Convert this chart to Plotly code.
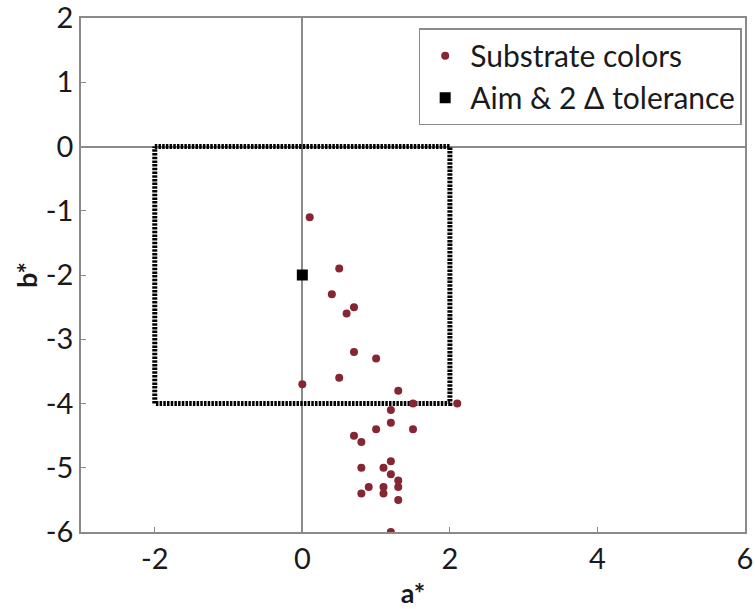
import plotly.graph_objects as go

# Substrate color measurements (a*, b*)
substrate_a = [0.1, 0.5, 0.4, 0.7, 0.6, 0.7, 1.0, 0.5, 0.0, 1.3, 2.1, 1.5, 1.2, 1.2,
               1.0, 1.5, 0.7, 0.8, 1.2, 1.1, 0.8, 1.2, 1.3, 1.3, 0.9, 1.1, 1.1, 0.8,
               1.3, 1.2]
substrate_b = [-1.1, -1.9, -2.3, -2.5, -2.6, -3.2, -3.3, -3.6, -3.7, -3.8, -4.0, -4.0,
               -4.1, -4.3, -4.4, -4.4, -4.5, -4.6, -4.9, -5.0, -5.0, -5.1, -5.2, -5.3,
               -5.3, -5.3, -5.4, -5.4, -5.5, -6.0]

# Aim and tolerance box
aim_a = [0]
aim_b = [-2]
box_a = [-2, 2, 2, -2, -2]
box_b = [0, 0, -4, -4, 0]

x_ticks = [-2, 0, 2, 4, 6]
x_labels = ["-2", "0", "2", "4", "6"]
y_ticks = [-6, -5, -4, -3, -2, -1, 0, 1, 2]
y_labels = ["-6", "-5", "-4", "-3", "-2", "-1", "0", "1", "2"]

FONT = "Lato"
GRAY = "#8a8a8a"

fig = go.Figure()
fig.add_trace(go.Scatter(
    x=box_a, y=box_b, mode="lines", showlegend=False,
    line=dict(color="black", width=5, dash="2.5px,1.2px"), hoverinfo="skip"))
fig.add_trace(go.Scatter(
    x=substrate_a, y=substrate_b, mode="markers", name="Substrate colors",
    marker=dict(color="#862633", size=8)))
fig.add_trace(go.Scatter(
    x=aim_a, y=aim_b, mode="markers", name="Aim & 2 Δ tolerance",
    marker=dict(color="black", size=11, symbol="square")))

axis_common = dict(
    showgrid=False, zeroline=True, zerolinecolor=GRAY, zerolinewidth=2,
    showline=True, linecolor=GRAY, linewidth=1.5, mirror=True,
    ticks="inside", ticklen=5, tickcolor=GRAY, tickwidth=1,
    tickfont=dict(family=FONT, size=29, color="#1a1a1a"),
    automargin=False, ticklabeloverflow="allow",
)

fig.update_layout(
    width=755, height=609,
    margin=dict(l=81, r=10, t=18, b=77),
    plot_bgcolor="white", paper_bgcolor="white",
    font=dict(family=FONT, color="#1a1a1a"),
    xaxis=dict(range=[-3, 6], tickvals=x_ticks, ticktext=x_labels,
               title=dict(text="<b>a*</b>", font=dict(family=FONT, size=27), standoff=14),
               **axis_common),
    yaxis=dict(range=[-6, 2], tickvals=y_ticks, ticktext=y_labels,
               title=dict(text="<b>b*</b>", font=dict(family=FONT, size=27), standoff=0),
               **axis_common),
    legend=dict(x=0.995, y=0.98, xanchor="right", yanchor="top",
                bgcolor="white", bordercolor=GRAY, borderwidth=1.5,
                font=dict(family=FONT, size=30, color="#1a1a1a"),
                tracegroupgap=0, itemwidth=40),
)

fig.write_html("out.html")
